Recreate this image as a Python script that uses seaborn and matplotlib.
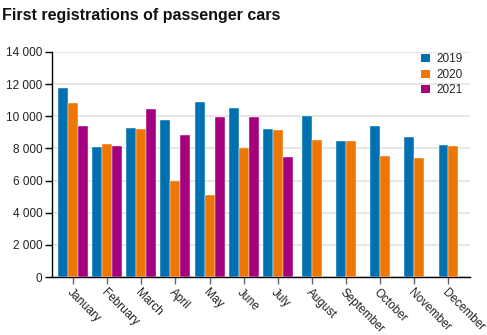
import matplotlib
matplotlib.use("Agg")
import matplotlib.pyplot as plt
from matplotlib.ticker import FuncFormatter, MultipleLocator
from matplotlib.patches import Patch
import seaborn as sns
import pandas as pd

months = ["January", "February", "March", "April", "May", "June", "July",
          "August", "September", "October", "November", "December"]
years = ["2019", "2020", "2021"]
cars_2019 = [11750, 8090, 9270, 9770, 10890, 10540, 9210, 10000, 8460, 9380, 8690, 8210]
cars_2020 = [10800, 8270, 9210, 5970, 5100, 8030, 9130, 8500, 8440, 7510, 7380, 8150]
cars_2021 = [9380, 8170, 10430, 8840, 9980, 9930, 7490]
colors = {"2019": "#0071B0", "2020": "#EE7604", "2021": "#A5007E"}

rows = []
for yr, vals in zip(years, [cars_2019, cars_2020, cars_2021]):
    for m, v in zip(months, vals):
        rows.append({"month": m, "year": yr, "cars": v})
df = pd.DataFrame(rows)

sns.set_style("white")
plt.rcParams["font.family"] = ["Liberation Sans", "DejaVu Sans"]

fig = plt.figure(figsize=(4.87, 3.35), dpi=100)
ax = fig.add_axes([0.107, 0.173, 0.858, 0.672])

# Months with three years of data
first = df[df["month"].isin(months[:7])]
sns.barplot(data=first, x="month", y="cars", hue="year", order=months,
            hue_order=years, palette=colors, width=0.88, errorbar=None,
            saturation=1, edgecolor="white", linewidth=0.3, legend=False,
            ax=ax, zorder=3)
# Months with only 2019 and 2020
second = df[df["month"].isin(months[7:])]
sns.barplot(data=second, x="month", y="cars", hue="year", order=months,
            hue_order=years[:2], palette=colors, width=0.58, errorbar=None,
            saturation=1, edgecolor="white", linewidth=0.3, legend=False,
            ax=ax, zorder=3)

ax.set_xlim(-0.615, 11.63)
ax.set_ylim(0, 14000)
ax.yaxis.set_major_locator(MultipleLocator(2000))
ax.yaxis.set_major_formatter(FuncFormatter(lambda v, p: f"{int(v):,}".replace(",", " ")))
ax.grid(axis="y", color="#e4e4e4", linewidth=1.3, zorder=0)
ax.set_axisbelow(True)
ax.set_xlabel("")
ax.set_ylabel("")

for s in ["top", "right"]:
    ax.spines[s].set_visible(False)
ax.spines["left"].set_color("black")
ax.spines["bottom"].set_color("black")
ax.spines["left"].set_linewidth(1.0)
ax.spines["bottom"].set_linewidth(1.0)

ax.tick_params(axis="y", length=5, width=1, color="black", labelsize=8.5,
               labelcolor="#222222", pad=2, left=True)
ax.tick_params(axis="x", length=5, width=1, color="#666666", labelsize=8.5,
               labelcolor="#222222", pad=2, bottom=True)
ax.set_xticks(range(len(months)))
ax.set_xticklabels(months, rotation=-45, ha="left", va="top",
                   rotation_mode="anchor")

handles = [Patch(facecolor=colors[y], edgecolor="none", label=y) for y in years]
ax.legend(handles=handles, loc="upper right", bbox_to_anchor=(1.0, 1.025),
          frameon=False, fontsize=8.5, handlelength=0.7, handleheight=0.7,
          handletextpad=0.6, labelspacing=0.3, borderaxespad=0.2)

fig.text(0.005, 0.975, "First registrations of passenger cars", fontsize=11.5,
         fontweight="bold", ha="left", va="top", color="#111111")

fig.savefig("out.png", dpi=100)
